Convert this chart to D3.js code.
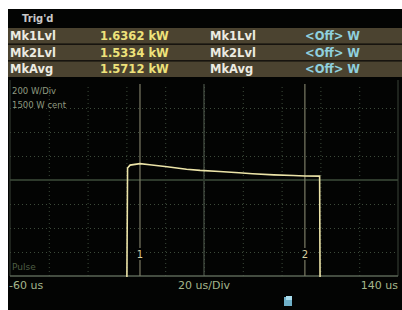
<!DOCTYPE html>
<html><head><meta charset="utf-8">
<script src="https://cdn.jsdelivr.net/npm/d3@7"></script>
<style>html,body{margin:0;padding:0;background:#fff;}svg{display:block;}</style>
</head><body>
<svg id="c" width="402" height="310"></svg>
<script>
// ---- data ----
const timeUs = [0.0, 0.6, 1.9, 7, 12, 21, 31, 38, 48, 58, 65, 76, 86, 92, 99.6, 100.0];
const powerW = [0, 1600, 1624, 1636, 1627, 1610, 1590, 1580, 1571, 1560, 1552, 1543, 1538, 1533, 1532, 0];
const markerTimes = [7, 92];
const markerLabels = ["1", "2"];
const rowLabels = ["Mk1Lvl", "Mk2Lvl", "MkAvg"];
const rowValues = ["1.6362 kW", "1.5334 kW", "1.5712 kW"];
const rowLabels2 = ["Mk1Lvl", "Mk2Lvl", "MkAvg"];
const rowValues2 = ["<Off> W", "<Off> W", "<Off> W"];
const xTickLabels = ["-60 us", "20 us/Div", "140 us"];
const xDomain = [-60, 140];
const yDomain = [700, 2300];
const infoLines = ["200 W/Div", "1500 W cent"];

const svg = d3.select("#c");
svg.append("rect").attr("x", 8).attr("y", 9).attr("width", 394).attr("height", 301).attr("fill", "#030403");

// header
svg.append("text").attr("x", 22).attr("y", 22).text("Trig'd")
  .attr("fill", "#c8c8c8").attr("font-family", "DejaVu Sans").attr("font-size", 10).attr("font-weight", "bold");

const rowTop = [28, 44, 61];
const rowH = 15;
const rowScale = d3.scaleBand().domain(d3.range(3)).range([28, 77]).paddingInner(0.07);
const rows = svg.selectAll("g.row").data(rowLabels).join("g").attr("class", "row")
  .attr("transform", (d, i) => `translate(0,${rowScale(i)})`);
rows.append("rect").attr("x", 8).attr("width", 394).attr("height", rowScale.bandwidth()).attr("fill", "#4b4330");
const tf = sel => sel.attr("font-family", "DejaVu Sans").attr("font-weight", "bold").attr("font-size", 11.5)
  .attr("y", rowScale.bandwidth() / 2 + 4.2);
rows.append("text").call(tf).attr("x", 10).attr("fill", "#ecebe2").text(d => d);
rows.append("text").call(tf).attr("x", 100).attr("fill", "#eee27a").text((d, i) => rowValues[i]);
rows.append("text").call(tf).attr("x", 210).attr("fill", "#ecebe2").text((d, i) => rowLabels2[i]);
rows.append("text").call(tf).attr("x", 305).attr("fill", "#8fd0de").text((d, i) => rowValues2[i]);

// plot
const L = 10, R = 398, T = 84, B = 276;
const x = d3.scaleLinear().domain(xDomain).range([L, R]);
const y = d3.scaleLinear().domain(yDomain).range([B, T]);

const g = svg.append("g");
// dotted grid
const gridColor = "#3c4a3a";
g.append("g").call(d3.axisBottom(x).tickValues(d3.range(-40, 140, 20)).tickSize(-(B - T)).tickFormat(""))
  .attr("transform", `translate(0,${B})`)
  .call(a => a.select(".domain").remove())
  .call(a => a.selectAll("line").attr("stroke", gridColor).attr("stroke-dasharray", "1,3"));
g.append("g").call(d3.axisLeft(y).tickValues(d3.range(900, 2300, 200)).tickSize(-(R - L)).tickFormat(""))
  .attr("transform", `translate(${L},0)`)
  .call(a => a.select(".domain").remove())
  .call(a => a.selectAll("line").attr("stroke", gridColor).attr("stroke-dasharray", "1,3"));
// solid center lines
g.append("line").attr("x1", x(40)).attr("x2", x(40)).attr("y1", T).attr("y2", B).attr("stroke", "#4a5448").attr("stroke-width", 1.2);
g.append("line").attr("x1", L).attr("x2", R).attr("y1", y(1500)).attr("y2", y(1500)).attr("stroke", "#2e3a2c").attr("stroke-width", 2);
// border
g.append("line").attr("x1", L).attr("x2", L).attr("y1", T - 4).attr("y2", B).attr("stroke", "#3a4238");
g.append("line").attr("x1", R).attr("x2", R).attr("y1", T - 4).attr("y2", B).attr("stroke", "#3a4238");
g.append("line").attr("x1", L).attr("x2", R).attr("y1", B).attr("y2", B).attr("stroke", "#5a6456").attr("stroke-width", 1.5);

// markers
const mk = g.selectAll("g.mk").data(markerTimes).join("g").attr("class", "mk");
mk.append("line").attr("x1", d => x(d)).attr("x2", d => x(d)).attr("y1", T).attr("y2", B)
  .attr("stroke", "#7c7c66").attr("stroke-width", 1.2);
mk.append("rect").attr("x", d => x(d) - 4).attr("y", 248).attr("width", 8).attr("height", 12).attr("fill", "#030403");
mk.append("text").attr("x", d => x(d)).attr("y", 258).attr("text-anchor", "middle")
  .attr("font-family", "DejaVu Sans").attr("font-size", 10).attr("fill", "#d8d0a0").text((d, i) => markerLabels[i]);

// trace
svg.append("clipPath").attr("id", "pc").append("rect").attr("x", L).attr("y", T).attr("width", R - L).attr("height", B - T + 1);
const line = d3.line().x(d => x(d[0])).y(d => y(d[1]));
svg.append("path").datum(timeUs.map((t, i) => [t, powerW[i]])).attr("d", line)
  .attr("clip-path", "url(#pc)").attr("fill", "none").attr("stroke", "#ece4a8").attr("stroke-width", 1.6);

// info text
svg.selectAll("text.info").data(infoLines).join("text").attr("class", "info")
  .attr("x", 12).attr("y", (d, i) => 94 + i * 14).text(d => d)
  .attr("font-family", "DejaVu Sans").attr("font-size", 8.5).attr("fill", "#8e9a80");
svg.append("text").attr("x", 12).attr("y", 270).text("Pulse")
  .attr("font-family", "DejaVu Sans").attr("font-size", 9).attr("fill", "#4e5e44");

// x labels
const anchors = ["start", "middle", "end"];
const lx = [L - 1, x(40), R];
svg.selectAll("text.xl").data(xTickLabels).join("text").attr("class", "xl")
  .attr("x", (d, i) => lx[i]).attr("y", 289).attr("text-anchor", (d, i) => anchors[i]).text(d => d)
  .attr("font-family", "DejaVu Sans").attr("font-size", 11).attr("fill", "#a4b68c");

// icon
svg.append("rect").attr("x", 284).attr("y", 297).attr("width", 8).attr("height", 9).attr("fill", "#6fb0c8");
svg.append("rect").attr("x", 286).attr("y", 296).attr("width", 6).attr("height", 4).attr("fill", "#a8dced");
</script>
</body></html>
